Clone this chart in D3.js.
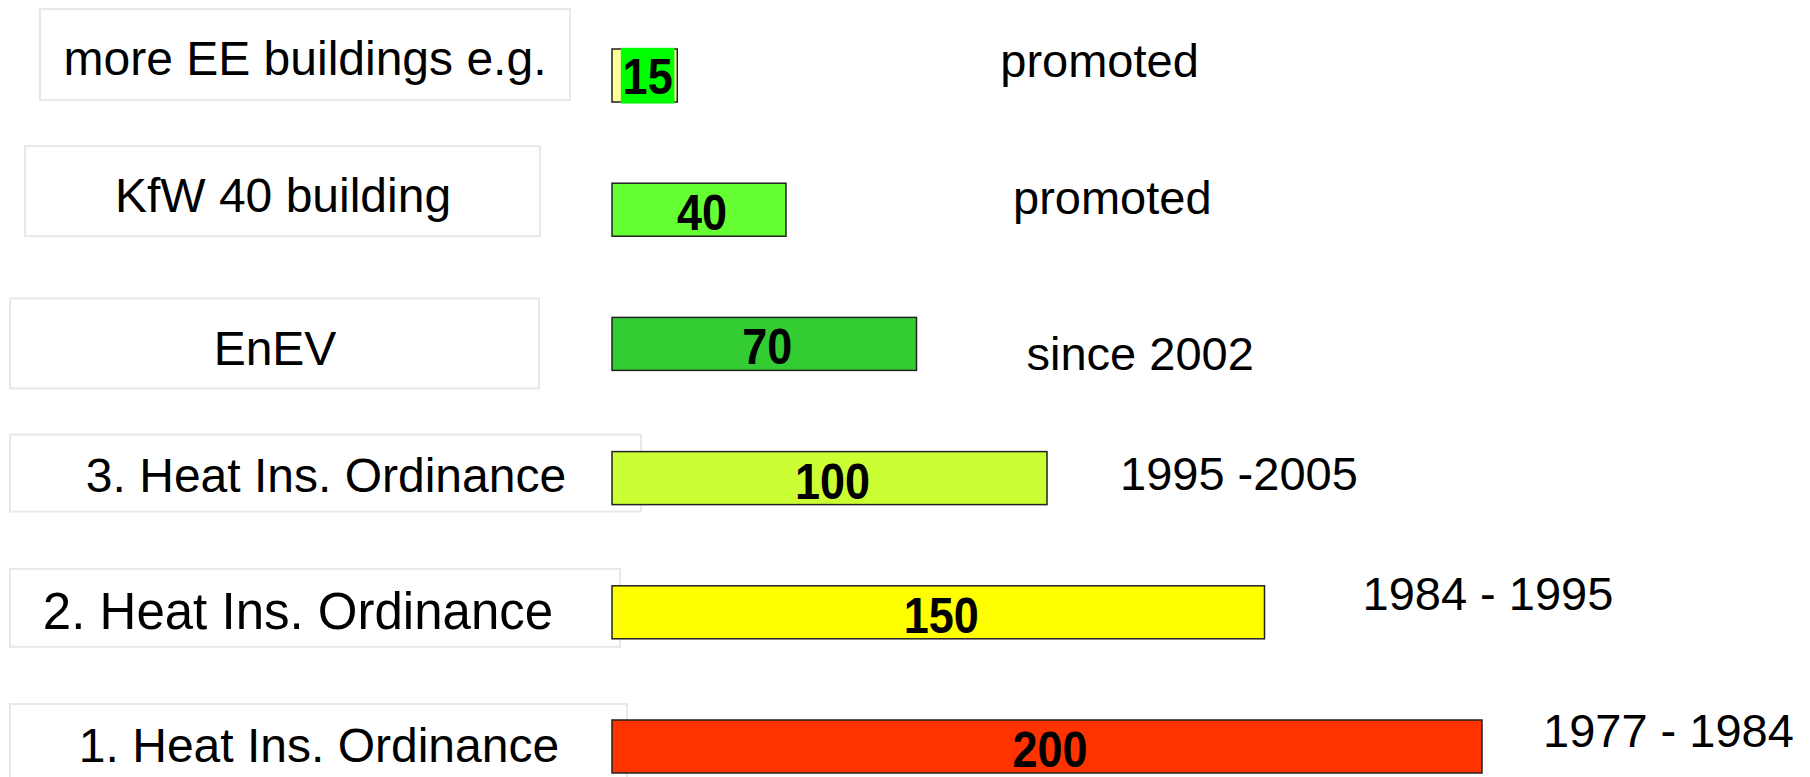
<!DOCTYPE html>
<html>
<head>
<meta charset="utf-8">
<script src="https://cdn.jsdelivr.net/npm/d3@7"></script>
<style>
  body { margin: 0; background: #fff; }
  svg { display: block; font-family: "Liberation Sans", Arial, sans-serif; }
</style>
</head>
<body>
<div id="chart"></div>
<script>
// data
const categories = [
  "more EE buildings e.g.",
  "KfW 40 building",
  "EnEV",
  "3. Heat Ins. Ordinance",
  "2. Heat Ins. Ordinance",
  "1. Heat Ins. Ordinance"
];
const values = [15, 40, 70, 100, 150, 200];
const periods = ["promoted", "promoted", "since 2002", "1995 -2005", "1984 - 1995", "1977 - 1984"];

// colours
const barColors = ["#ffff99", "#66ff33", "#33cc33", "#ccff33", "#ffff00", "#ff3300"];

// layout per row (label box and period text offsets, relative to the bar top)
const boxLayout = [
  { x0: 40, x1: 570, dy: -40, h: 91, tx: 305, ty: 26, fs: 48 },
  { x0: 25, x1: 540, dy: -37, h: 90, tx: 283, ty: 29, fs: 48 },
  { x0: 10, x1: 539, dy: -19, h: 90, tx: 275, ty: 48, fs: 48 },
  { x0: 10, x1: 641, dy: -17, h: 77, tx: 326, ty: 40, fs: 48 },
  { x0: 10, x1: 620, dy: -17, h: 78, tx: 298, ty: 43, fs: 51 },
  { x0: 10, x1: 627, dy: -16, h: 90, tx: 319, ty: 42, fs: 48 }
];
const periodLayout = [
  { dx: 323, dy: 28 },
  { dx: 227, dy: 31 },
  { dx: 110, dy: 53 },
  { dx: 73, dy: 38 },
  { dx: 98, dy: 24 },
  { dx: 61, dy: 27 }
];

const width = 1810, height = 777;
const barLeft = 612, barH = 53;

const rows = categories.map((c, i) => ({
  cat: c, value: values[i], period: periods[i],
  color: barColors[i], box: boxLayout[i], per: periodLayout[i], i
}));

const x = d3.scaleLinear().domain([0, 200]).range([barLeft, 1482]);
const y = d3.scalePoint().domain(categories).range([49, 720]);

const svg = d3.select("#chart").append("svg")
  .attr("width", width)
  .attr("height", height);

const row = svg.selectAll("g.row")
  .data(rows)
  .join("g")
    .attr("class", "row");

// label boxes
row.append("rect")
  .attr("x", d => d.box.x0)
  .attr("y", d => y(d.cat) + d.box.dy)
  .attr("width", d => d.box.x1 - d.box.x0)
  .attr("height", d => d.box.h)
  .attr("fill", "#fff")
  .attr("stroke", "#e8e8e8")
  .attr("stroke-width", 2);

row.append("text")
  .attr("x", d => d.box.tx)
  .attr("y", d => y(d.cat) + d.box.ty)
  .attr("text-anchor", "middle")
  .style("font-size", d => d.box.fs + "px")
  .attr("fill", "#000")
  .text(d => d.cat);

// bars
row.append("rect")
  .attr("x", x(0))
  .attr("y", d => y(d.cat))
  .attr("width", d => x(d.value) - x(0))
  .attr("height", barH)
  .attr("fill", d => d.color)
  .attr("stroke", "#222")
  .attr("stroke-width", 1.5);

// value labels
const vl = row.append("g")
  .attr("transform", d => `translate(${(x(0) + x(d.value)) / 2 + 3},${y(d.cat) + barH - (d.i === 0 ? 8 : 6)}) scale(0.9,1)`);

vl.append("text")
  .attr("text-anchor", "middle")
  .style("font-size", "50px")
  .style("font-weight", "bold")
  .attr("fill", "#000")
  .text(d => d.value);

// green highlight behind the smallest value
vl.filter(d => d.i === 0).each(function() {
  const g = d3.select(this);
  const bb = g.select("text").node().getBBox();
  g.insert("rect", "text")
    .attr("x", bb.x - 2)
    .attr("y", bb.y - 1)
    .attr("width", bb.width + 4)
    .attr("height", bb.height)
    .attr("fill", "#00ff00");
});

// period annotations
row.append("text")
  .attr("x", d => x(d.value) + d.per.dx)
  .attr("y", d => y(d.cat) + d.per.dy)
  .style("font-size", "47px")
  .attr("fill", "#000")
  .text(d => d.period);
</script>
</body>
</html>
